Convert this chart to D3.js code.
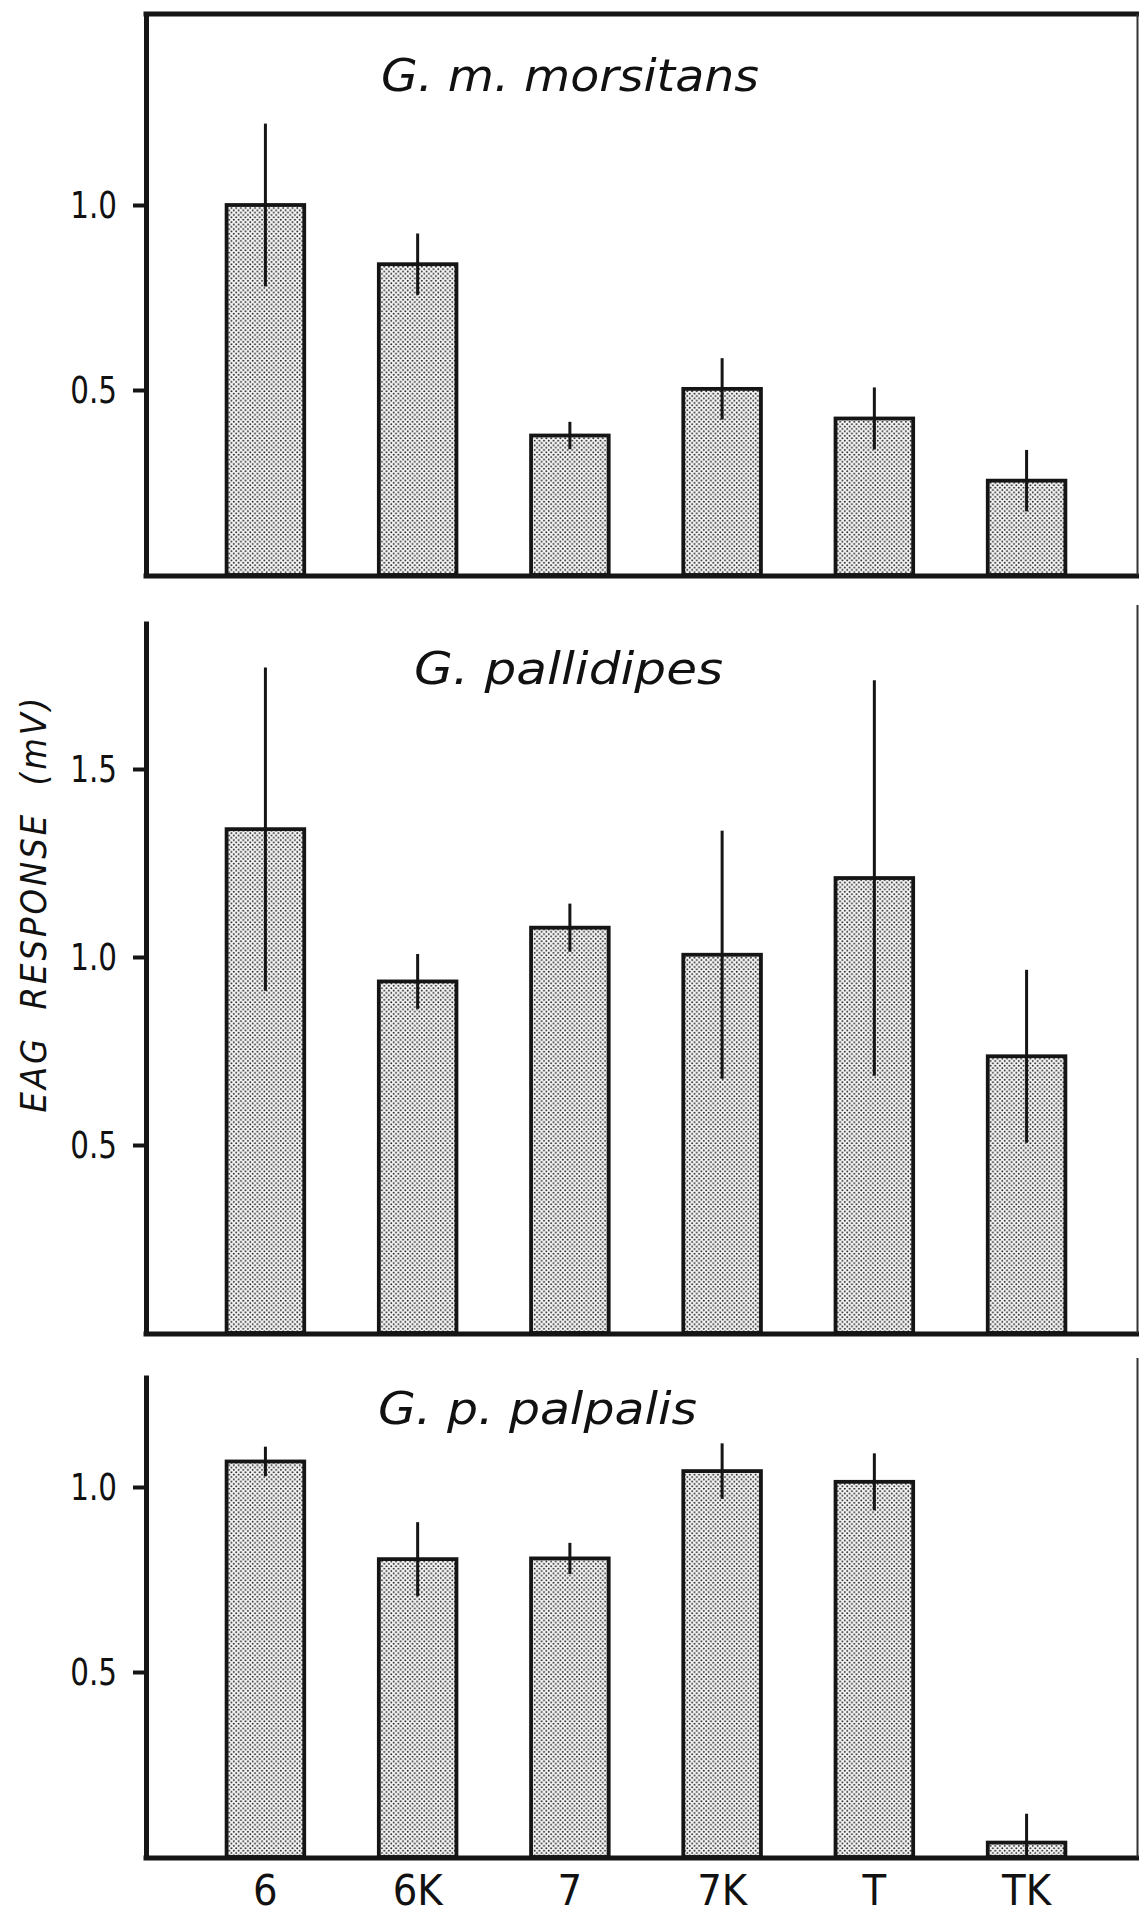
<!DOCTYPE html>
<html>
<head>
<meta charset="utf-8">
<script src="https://cdn.jsdelivr.net/npm/d3@7"></script>
<style>
  body { margin: 0; background: #fff; }
  svg { display: block; }
  text { font-family: "Liberation Sans Narrow", "DejaVu Sans Condensed", "DejaVu Sans", sans-serif; fill: #111; }
</style>
</head>
<body>
<div id="container"></div>
<script>
// odour categories along the bottom
var categories = ["6", "6K", "7", "7K", "T", "TK"];

// mean EAG response (mV) and error
var morsitansMeans = [1.00, 0.84, 0.377, 0.503, 0.423, 0.255];
var morsitansErr   = [0.22, 0.083, 0.037, 0.083, 0.084, 0.083];

var pallidipesMeans = [1.34, 0.935, 1.078, 1.006, 1.21, 0.736];
var pallidipesErr   = [0.43, 0.073, 0.064, 0.33, 0.526, 0.23];

var palpalisMeans = [1.069, 0.805, 0.807, 1.043, 1.014, 0.039];
var palpalisErr   = [0.04, 0.1, 0.042, 0.075, 0.077, 0.078];

var morsitansTicks  = [0.5, 1.0];
var pallidipesTicks = [0.5, 1.0, 1.5];
var palpalisTicks   = [0.5, 1.0];

var yLabel = "EAG  RESPONSE  (mV)";

var width = 1139, height = 1917;
var axisX = 146;
var squeeze = 0.86; // the original lettering is condensed

// layout of the three stacked panels
var panels = [
  { title: "G. m. morsitans", means: morsitansMeans, err: morsitansErr, ticks: morsitansTicks,
    base: 575, unit: 370, top: 14, rightTop: 14, box: true,
    titleX: 381, titleY: 91, titleLen: 378 },
  { title: "G. pallidipes", means: pallidipesMeans, err: pallidipesErr, ticks: pallidipesTicks,
    base: 1333, unit: 376, top: 621, rightTop: 605, box: false,
    titleX: 414, titleY: 684, titleLen: 309 },
  { title: "G. p. palpalis", means: palpalisMeans, err: palpalisErr, ticks: palpalisTicks,
    base: 1857, unit: 370, top: 1375, rightTop: 1358, box: false,
    titleX: 378, titleY: 1424, titleLen: 319 }
];

var svg = d3.select("#container").append("svg")
    .attr("width", width)
    .attr("height", height);

// halftone dot screen for the bars
var defs = svg.append("defs");
var pat = defs.append("pattern")
    .attr("id", "dots")
    .attr("patternUnits", "userSpaceOnUse")
    .attr("width", 4.7)
    .attr("height", 4.7);
pat.append("rect").attr("width", 4.7).attr("height", 4.7).attr("fill", "#f7f7f7");
pat.append("circle").attr("cx", 1.2).attr("cy", 1.2).attr("r", 0.95).attr("fill", "#222");
pat.append("circle").attr("cx", 3.55).attr("cy", 3.55).attr("r", 0.95).attr("fill", "#222");

var x = d3.scaleBand()
    .domain(categories)
    .range([152, 1140])
    .paddingInner(0.49)
    .paddingOuter(0.49);

panels.forEach(function(p, pi) {
  var maxV = (p.base - p.top) / p.unit;
  var y = d3.scaleLinear().domain([0, maxV]).range([p.base, p.top]);
  var g = svg.append("g");

  var rows = categories.map(function(c, i) {
    return { cat: c, v: p.means[i], e: p.err[i] };
  });

  // bars
  g.selectAll("rect.bar")
    .data(rows)
    .enter()
    .append("rect")
    .attr("class", "bar")
    .attr("x", function(d) { return x(d.cat); })
    .attr("y", function(d) { return y(d.v); })
    .attr("width", x.bandwidth())
    .attr("height", function(d) { return y(0) - y(d.v); })
    .style("fill", "url(#dots)")
    .style("stroke", "#151515")
    .style("stroke-width", 3.8);

  // error bars, no caps
  g.selectAll("line.err")
    .data(rows)
    .enter()
    .append("line")
    .attr("class", "err")
    .attr("x1", function(d) { return x(d.cat) + x.bandwidth() / 2; })
    .attr("x2", function(d) { return x(d.cat) + x.bandwidth() / 2; })
    .attr("y1", function(d) { return y(Math.max(0, d.v - d.e)); })
    .attr("y2", function(d) { return y(d.v + d.e); })
    .style("stroke", "#151515")
    .style("stroke-width", 3);

  // left axis
  var yAxis = d3.axisLeft(y)
      .tickValues(p.ticks)
      .tickFormat(d3.format(".1f"))
      .tickSize(13)
      .tickSizeOuter(0)
      .tickPadding(16);
  var ya = g.append("g")
      .attr("transform", "translate(" + axisX + ",0)")
      .call(yAxis);
  ya.select(".domain").style("stroke", "#151515").style("stroke-width", 5);
  ya.selectAll(".tick line").style("stroke", "#151515").style("stroke-width", 4);
  ya.selectAll(".tick text")
    .attr("x", -29 / squeeze)
    .attr("transform", "scale(" + squeeze + ",1)")
    .style("font-size", "38px")
    .style("fill", "#111");

  // baseline
  g.append("line")
    .attr("x1", axisX - 2.5).attr("x2", width)
    .attr("y1", p.base + 1).attr("y2", p.base + 1)
    .style("stroke", "#151515").style("stroke-width", 5);

  // top border only on the first panel
  if (p.box) {
    g.append("line")
      .attr("x1", axisX - 2.5).attr("x2", width)
      .attr("y1", p.top).attr("y2", p.top)
      .style("stroke", "#151515").style("stroke-width", 5);
  }

  // thin right edge
  g.append("line")
    .attr("x1", 1137.5).attr("x2", 1137.5)
    .attr("y1", p.rightTop).attr("y2", p.base)
    .style("stroke", "#333").style("stroke-width", 2);

  // species name
  g.append("text")
    .attr("x", p.titleX)
    .attr("y", p.titleY)
    .attr("textLength", p.titleLen)
    .attr("lengthAdjust", "spacingAndGlyphs")
    .style("font-size", "45px")
    .style("font-style", "italic")
    .text(p.title);

  // category labels under the last panel
  if (pi === panels.length - 1) {
    var xAxis = d3.axisBottom(x).tickSize(0).tickPadding(24);
    var xa = g.append("g")
        .attr("transform", "translate(0," + p.base + ")")
        .call(xAxis);
    xa.select(".domain").remove();
    xa.selectAll(".tick text")
      .attr("dy", null)
      .attr("y", 48)
      .style("font-size", "43px")
      .style("fill", "#111");
  }
});

// y axis title on the middle panel
svg.append("text")
  .attr("transform", "translate(46,905) rotate(-90)")
  .attr("text-anchor", "middle")
  .attr("textLength", 415)
  .attr("lengthAdjust", "spacing")
  .style("font-size", "36px")
  .style("font-style", "italic")
  .style("white-space", "pre")
  .text(yLabel);
</script>
</body>
</html>
